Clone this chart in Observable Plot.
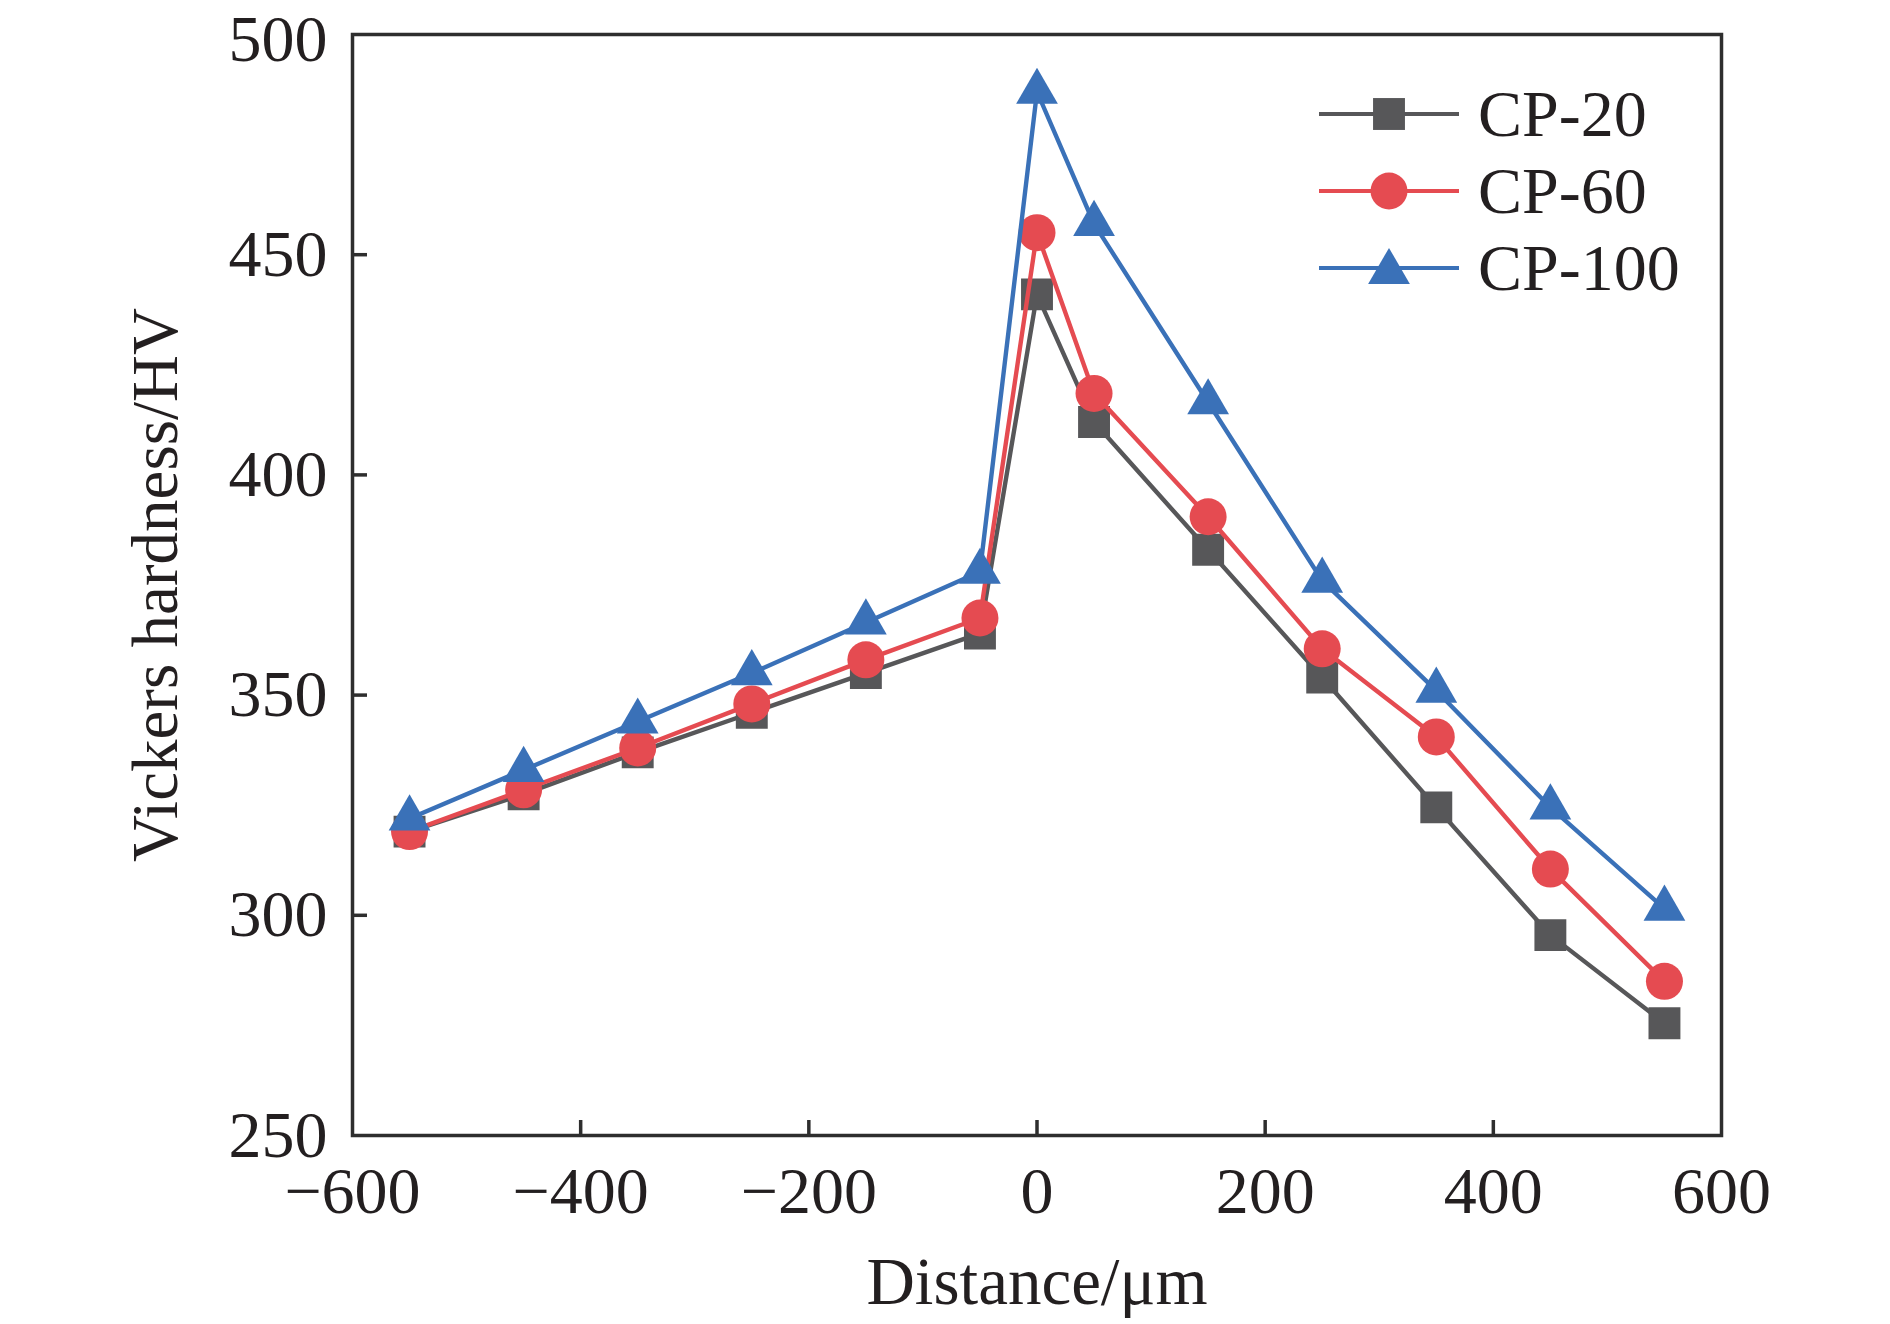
<!DOCTYPE html>
<html>
<head>
<meta charset="utf-8">
<script src="https://cdn.jsdelivr.net/npm/d3@7"></script>
<script src="https://cdn.jsdelivr.net/npm/@observablehq/plot@0.6"></script>
<style>
  html, body { margin: 0; padding: 0; background: #fff; }
  #chart { width: 1890px; height: 1324px; }
</style>
</head>
<body>
<div id="chart"></div>
<script>
// ---- data ----
const distance = [-550, -450, -350, -250, -150, -50, 0, 50, 150, 250, 350, 450, 550];
const cp20  = [319, 327.5, 337, 346, 355, 364, 441, 412, 383, 354, 324.5, 295.5, 275.5];
const cp60  = [319, 328.5, 338, 348, 358, 367.5, 455, 418.5, 390.5, 360.5, 340.5, 310.5, 285];
const cp100 = [322, 333, 344, 355, 366.5, 378, 487, 457, 416.5, 376, 351, 324.5, 301.5];
const seriesNames = ["CP-20", "CP-60", "CP-100"];
const xTicks = [-600, -400, -200, 0, 200, 400, 600];
const yTicks = [250, 300, 350, 400, 450];
const yTopTick = [500];
const xInnerTicks = [-400, -200, 0, 200, 400];
const yInnerTicks = [300, 350, 400, 450];
const xLabel = "Distance/μm";
const yLabel = "Vickers hardness/HV";

// ---- style ----
const colors = ["#575759", "#e54b51", "#3a71b8"];
const symbols = ["square", "circle", "triangle"];
const radii = [18, 18.5, 15.5];
const ink = "#231f20";
const W = 1890, H = 1324;
const mL = 352, mR = 169, mT = 34, mB = 189;
const plotW = W - mL - mR, plotH = H - mT - mB;

const seriesValues = [cp20, cp60, cp100];
const rows = seriesValues.map((vals, s) =>
  distance.map((d, i) => ({series: seriesNames[s], x: d, y: vals[i]}))
);

const marks = [];
rows.forEach((data, s) => {
  marks.push(Plot.line(data, {x: "x", y: "y", stroke: colors[s], strokeWidth: 4.4}));
  marks.push(Plot.dot(data, {x: "x", y: "y", symbol: () => symbols[s], r: radii[s], fill: colors[s], stroke: "none"}));
});

const fmt = d3.format("d");

const chart = Plot.plot({
  width: W,
  height: H,
  marginLeft: mL,
  marginRight: mR,
  marginTop: mT,
  marginBottom: mB,
  style: {fontFamily: "'Liberation Serif', 'Times New Roman', serif", fontSize: "66px", color: ink, background: "#fff"},
  x: {domain: [-600, 600]},
  y: {domain: [250, 500]},
  symbol: {type: "identity"},
  marks: [
    Plot.axisX({ticks: xTicks, tickSize: 0, tickPadding: 31, tickFormat: fmt, label: null, fill: ink}),
    Plot.axisY({ticks: yTicks, tickSize: 0, tickPadding: 25, tickFormat: fmt, label: null, fill: ink}),
    Plot.axisY({ticks: yTopTick, tickSize: 0, tickPadding: 25, tickFormat: fmt, label: null, fill: ink, dy: 5}),
    Plot.tickY(yInnerTicks, {y: d => d, insetRight: plotW - 15, stroke: "#2e2e2e", strokeWidth: 3.5}),
    Plot.tickX(xInnerTicks, {x: d => d, insetTop: plotH - 15, stroke: "#2e2e2e", strokeWidth: 3.5}),
    ...marks,
    Plot.frame({stroke: "#2e2e2e", strokeWidth: 3.5}),
    Plot.text([xLabel], {frameAnchor: "bottom", dy: 147, lineAnchor: "middle", textAnchor: "middle", fill: ink, fontSize: 67}),
    Plot.text([yLabel], {frameAnchor: "left", dx: -196, rotate: -90, lineAnchor: "middle", textAnchor: "middle", fill: ink, fontSize: 65})
  ]
});

// ---- legend (inside plot, top right) ----
const svg = d3.select(chart);
const legend = svg.append("g").attr("class", "legend").attr("text-anchor", "start");
const legendRowsY = [114, 191, 268];
seriesNames.forEach((name, s) => {
  const y = legendRowsY[s];
  const g = legend.append("g").attr("transform", `translate(0,${y})`);
  g.append("line").attr("x1", 1319).attr("x2", 1459).attr("y1", 0).attr("y2", 0)
    .attr("stroke", colors[s]).attr("stroke-width", 3.8);
  const symType = [d3.symbolSquare, d3.symbolCircle, d3.symbolTriangle][s];
  g.append("path")
    .attr("d", d3.symbol(symType, Math.PI * radii[s] * radii[s])())
    .attr("transform", `translate(1389,${s === 2 ? 4 : 0})`)
    .attr("fill", colors[s]);
  g.append("text").attr("x", 1478).attr("y", 0).attr("dy", "0.33em")
    .attr("text-anchor", "start")
    .attr("fill", ink).attr("font-size", 66).text(name);
});

document.getElementById("chart").appendChild(chart);
</script>
</body>
</html>
